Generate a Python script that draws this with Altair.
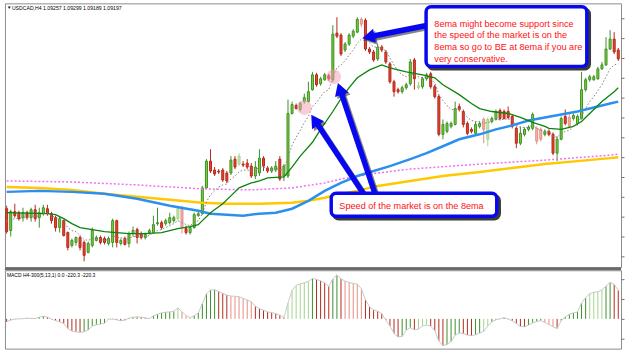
import math
import altair as alt
import numpy as np
import pandas as pd

# Prices are read as "pips below 1.0976" (0.0001 each), one entry per H4 candle.
REF = 1.0976
PIP = 0.0001

opens = [208, 230, 211, 212, 217, 212, 217, 209, 217, 213,
         208, 213, 217, 227, 220, 232, 245, 242, 237, 242,
         252, 245, 240, 237, 238, 243, 242, 220, 243, 238,
         243, 233, 229, 233, 237, 232, 232, 223, 222, 223,
         222, 220, 218, 208, 228, 232, 227, 215, 213, 187,
         160, 169, 170, 169, 172, 172, 158, 163, 163, 162,
         165, 175, 172, 157, 167, 170, 169, 158, 175, 175,
         112, 104, 108, 100, 100, 88, 73, 82, 78, 74,
         78, 31, 33, 48, 42, 34, 30, 17, 18, 47,
         50, 57, 45, 50, 62, 80, 88, 90, 86, 82,
         58, 86, 85, 77, 72, 85, 95, 133, 130, 125,
         123, 105, 110, 122, 128, 132, 125, 118, 138, 120,
         118, 109, 110, 110, 115, 127, 142, 133, 128, 127,
         127, 128, 133, 130, 133, 152, 138, 115, 116, 117,
         122, 117, 88, 78, 78, 77, 67, 63, 47, 37,
         48]
closes = [231, 211, 215, 218, 212, 217, 209, 218, 212, 207,
          213, 220, 227, 218, 235, 247, 240, 237, 247, 255,
          243, 230, 237, 242, 242, 238, 220, 242, 240, 244,
          233, 230, 237, 237, 234, 230, 224, 222, 227, 220,
          217, 217, 208, 227, 232, 227, 214, 213, 187, 160,
          170, 173, 171, 179, 180, 159, 166, 155, 164, 166,
          175, 166, 157, 165, 170, 167, 165, 178, 165, 112,
          103, 107, 102, 96, 90, 73, 83, 77, 73, 77,
          32, 34, 52, 42, 33, 29, 17, 22, 47, 50,
          58, 45, 48, 60, 80, 90, 90, 86, 83, 60,
          77, 84, 77, 73, 85, 95, 133, 123, 122, 122,
          107, 108, 123, 132, 130, 123, 122, 128, 118, 117,
          110, 117, 117, 116, 125, 142, 132, 128, 126, 113,
          140, 138, 130, 133, 152, 138, 117, 122, 125, 114,
          115, 88, 78, 75, 75, 67, 63, 47, 37, 50,
          57]
highs = [205, 209, 203, 210, 207, 210, 207, 204, 207, 204,
         204, 211, 215, 216, 219, 231, 238, 236, 235, 240,
         241, 227, 235, 235, 236, 236, 218, 219, 238, 236,
         231, 226, 227, 231, 232, 228, 215, 207, 220, 218,
         212, 215, 205, 205, 225, 225, 212, 210, 185, 158,
         148, 166, 168, 167, 170, 155, 155, 152, 160, 158,
         162, 160, 148, 155, 165, 165, 160, 155, 163, 98,
         100, 102, 100, 92, 80, 70, 71, 75, 71, 72,
         23, 15, 31, 40, 31, 27, 15, 15, 16, 45,
         48, 42, 43, 48, 60, 78, 86, 84, 81, 57,
         56, 80, 75, 71, 70, 83, 93, 118, 120, 120,
         100, 102, 108, 120, 126, 120, 120, 116, 116, 115,
         108, 107, 108, 105, 113, 125, 125, 126, 124, 111,
         125, 126, 128, 128, 131, 135, 115, 108, 113, 112,
         113, 70, 76, 73, 73, 65, 60, 35, 28, 30,
         46]
lows = [233, 236, 217, 220, 221, 219, 221, 221, 227, 215,
        215, 223, 231, 232, 236, 250, 247, 245, 250, 261,
        253, 247, 241, 244, 244, 245, 247, 247, 245, 245,
        247, 236, 243, 239, 239, 234, 233, 225, 229, 225,
        224, 222, 220, 233, 234, 234, 228, 216, 214, 188,
        172, 175, 173, 181, 182, 174, 168, 165, 166, 168,
        177, 178, 175, 170, 172, 172, 171, 180, 180, 177,
        113, 108, 110, 102, 101, 89, 85, 84, 79, 79,
        80, 36, 54, 50, 44, 36, 31, 25, 49, 52,
        60, 59, 50, 62, 82, 95, 92, 92, 88, 84,
        88, 88, 87, 79, 87, 97, 135, 138, 132, 127,
        124, 110, 126, 134, 132, 134, 127, 142, 145, 122,
        119, 119, 118, 118, 127, 147, 144, 135, 130, 129,
        143, 140, 135, 135, 154, 160, 139, 124, 127, 119,
        124, 118, 90, 80, 79, 78, 68, 64, 48, 52,
        59]
pale_candles = [42, 43, 57, 87, 101, 117, 118, 130, 131, 138]

# 8 EMA (grey dotted), pips below 1.0976, one per candle
ema8 = [221, 219, 218, 218, 217, 217, 215, 216, 215, 213,
        213, 215, 217, 218, 221, 227, 230, 231, 235, 239,
        240, 238, 238, 239, 240, 239, 235, 237, 237, 239,
        238, 236, 236, 236, 236, 235, 232, 230, 229, 227,
        225, 223, 220, 222, 224, 225, 222, 220, 213, 201,
        194, 190, 186, 184, 183, 178, 175, 171, 169, 169,
        170, 169, 166, 166, 167, 167, 167, 169, 168, 156,
        144, 136, 129, 121, 115, 105, 101, 95, 90, 88,
        75, 66, 63, 59, 53, 48, 41, 37, 39, 41,
        45, 45, 46, 49, 56, 63, 69, 73, 75, 72,
        73, 75, 76, 75, 77, 81, 93, 99, 104, 108,
        108, 108, 111, 116, 119, 120, 120, 122, 121, 120,
        118, 118, 118, 117, 119, 124, 126, 126, 126, 123,
        127, 129, 130, 130, 135, 136, 132, 130, 129, 125,
        123, 115, 107, 100, 95, 89, 83, 75, 67, 63,
        62]

# Slower averages read at sample candles (candle index, pips below 1.0976)
green_i = [0, 10, 12, 14, 16, 18, 21, 24, 27, 30, 34, 38, 42, 45, 47, 48, 50, 53, 55, 57,
           60, 62, 64, 68, 70, 72, 75, 77, 80, 82, 84, 86, 89, 92, 94, 98, 102, 105, 107, 111,
           114, 116, 119, 123, 126, 129, 132, 133, 136, 139, 141, 144, 146, 149, 150]
green_v = [212, 213, 214, 218, 223, 227, 229, 231, 232, 233, 233, 232, 228, 226, 224, 220, 212, 203, 195, 187,
           182, 180, 177, 176, 166, 155, 141, 128, 110, 97, 86, 76, 68, 63, 66, 70, 73, 76, 83, 93,
           102, 107, 110, 112, 116, 121, 125, 127, 128, 125, 120, 108, 100, 90, 86]
blue_i = [0, 8, 16, 24, 32, 40, 47, 50, 54, 58, 62, 66, 70, 74, 78, 82, 86, 90, 94, 99,
          103, 107, 111, 116, 120, 124, 128, 132, 136, 140, 144, 148, 150]
blue_v = [191, 190, 191, 193, 198, 205, 210, 213, 214, 215, 213, 212, 208, 200, 190, 182, 175, 170, 165, 158,
          152, 145, 138, 133, 128, 124, 119, 116, 113, 110, 106, 102, 100]
yellow_i = [0, 8, 16, 24, 32, 40, 48, 54, 62, 70, 74, 78, 82, 86, 91, 99, 107, 116, 124, 132, 140, 148, 150]
yellow_v = [186, 187, 189, 193, 196, 199, 202, 203, 203, 202, 200, 197, 193, 190, 185, 180, 175, 171, 167, 163, 160, 157, 156]
magenta_i = [0, 16, 32, 48, 60, 70, 78, 82, 91, 99, 116, 132, 148, 150]
magenta_v = [180, 181, 184, 188, 189, 187, 182, 178, 172, 168, 163, 159, 154, 153]

# MACD histogram (one bar per candle)
macd = [-3, -1.3, -0.3, 0, 0.2, 0.7, 0.5, 0.3, 1.7, 2.7,
        1.7, -0.3, -1.7, -3, -4.7, -9.7, -12.3, -13, -13.7, -13,
        -11.3, -7.3, -6, -5.3, -4.3, -0.3, -0.3, -1, -2, -1.3,
        0.7, 1.7, 2, 1.7, 1, 0.3, 3, 4.7, 6, 6.7,
        7, 7.7, 11, 7, 3.3, 1.3, 3.3, 6, 15.3, 25.3,
        29, 29.3, 27.7, 25.7, 24, 23, 22.7, 22.3, 20.7, 19,
        17.3, 12.7, 10.3, 8.7, 7, 6.3, 5.3, 3.7, 1.3, 16,
        28.7, 33.7, 35.3, 36.3, 37.7, 40.7, 39.7, 38.3, 36.3, 32.7,
        40.3, 44.3, 40.3, 38, 36.7, 35.7, 35, 30.3, 19.3, 12,
        9, 7.7, 5.3, -1.3, -7.3, -14.7, -18.3, -17.7, -11.3, -9,
        -11, -10.3, -7, -6.3, -7.3, -12, -22.3, -27, -25.7, -23,
        -16.3, -14.3, -15, -16.3, -17, -16, -14.3, -12.7, -7.3, -3,
        -1, 0, 1.3, -0.3, -2, -4.7, -7.7, -8, -6.3, -4,
        -2.7, -1.7, -3.7, -5.7, -8, -9.7, -2, 2, 4.7, 6,
        7, 16, 21.3, 25.3, 26.7, 27.3, 29.3, 33, 36.7, 34.7, 28.7]
pale_macd = [42, 43, 44, 45, 55, 56, 57, 58, 59, 60, 69, 70, 71, 72, 73, 74,
             83, 84, 85, 86, 87, 101, 102, 103, 117, 118, 132, 133, 134, 143, 144, 145, 146]

header_text = "USDCAD,H4  1.09257 1.09299 1.09189 1.09197"
macd_text = "MACD H4-300(5,13,1) 0.0 -220.3 -220.3"

box1_lines = ["8ema might become support since",
              "the speed of the market is on the",
              "8ema so go to BE at 8ema if you are",
              "very conservative."]
box1_line_p = [1.09543, 1.09427, 1.09310, 1.09193]
box1_text_i = 104.9
box1 = dict(i1=102.87, i2=142.29, p1=1.09715, p2=1.09115)
box2_line = "Speed of the market is on the 8ema"
box2_text_i, box2_text_p = 81.6, 1.0771
box2 = dict(i1=79.6, i2=120.2, p1=1.07835, p2=1.07605)

arrow_tail_i = [103.3, 88.0, 90.6]
arrow_tail_p = [1.0953, 1.0780, 1.0780]
arrow_tip_i = [87.4, 74.8, 81.3]
arrow_tip_p = [1.0940, 1.0862, 1.0894]

circle_i = [73.0, 80.2]
circle_p = [1.0870, 1.0901]

# ---------------------------------------------------------------
n = len(opens)
def to_price(v):
    return [round(REF - x * PIP, 5) for x in v]

kinds = []
for k in range(n):
    base = "up" if closes[k] <= opens[k] else "dn"
    if k in pale_candles:
        base += "_p"
    kinds.append(base)

cdf = pd.DataFrame({"i": range(n), "o": to_price(opens), "c": to_price(closes),
                    "h": to_price(highs), "l": to_price(lows), "kind": kinds})
ema_df = pd.DataFrame({"i": range(n), "p": to_price(ema8)})
green_df = pd.DataFrame({"i": green_i, "p": to_price(green_v)})
blue_df = pd.DataFrame({"i": blue_i, "p": to_price(blue_v)})
yellow_df = pd.DataFrame({"i": yellow_i, "p": to_price(yellow_v)})
mag_df = pd.DataFrame({"i": magenta_i, "p": to_price(magenta_v)})

mk = []
for k in range(n):
    rising = k > 0 and macd[k] > macd[k - 1]
    base = "g" if rising else "r"
    if k in pale_macd:
        base += "p"
    mk.append(base)
mdf = pd.DataFrame({"i": range(n), "v": macd, "zero": [0] * n, "kind": mk})

# arrow geometry (annotation only)
PXI = 4.11
arows = []
for ti, tp, hi, hp in zip(arrow_tail_i, arrow_tail_p, arrow_tip_i, arrow_tip_p):
    dx = (hi - ti) * PXI
    dy = -(hp - tp) / PIP
    L = math.hypot(dx, dy)
    ux, uy = dx / L, dy / L
    ang = math.degrees(math.atan2(ux, -uy)) % 360
    ci = hi - 5.5 * ux / PXI
    cp = hp + 5.5 * uy * PIP
    arows.append({"ti": ti, "tp": tp, "ci": ci, "cp": cp, "ang": ang})
adf = pd.DataFrame(arows)

W = 621
xsc = alt.Scale(domain=[-0.4136, 150.68], nice=False, zero=False, padding=0)
ysc = alt.Scale(domain=[REF - 267 * PIP, REF - 1 * PIP], nice=False, zero=False, padding=0)
yax = alt.Axis(orient="right", labels=False, title=None, grid=False, ticks=True, tickSize=3,
               tickColor="#6f6f6f", domain=False, tickCount=15, minExtent=0, maxExtent=3)
X = alt.X("i:Q", scale=xsc, axis=None)

def Y(f):
    return alt.Y(f, scale=ysc, axis=yax)

kd = ["up", "dn", "up_p", "dn_p"]
fills = ["#7fd12f", "#e8452f", "#c6eaa9", "#f4b4ac"]
strokes = ["#3d8f2a", "#b3281b", "#a2d38b", "#e38e84"]

wicks = alt.Chart(cdf).mark_rule(strokeWidth=1).encode(
    x=X, y=Y("h:Q"), y2="l:Q",
    color=alt.Color("kind:N", scale=alt.Scale(domain=kd, range=strokes), legend=None))
bodies = alt.Chart(cdf).mark_bar(size=2, strokeWidth=1).encode(
    x=X, y=Y("o:Q"), y2="c:Q",
    fill=alt.Fill("kind:N", scale=alt.Scale(domain=kd, range=fills), legend=None),
    stroke=alt.Stroke("kind:N", scale=alt.Scale(domain=kd, range=strokes), legend=None))

mag = alt.Chart(mag_df).mark_line(color="#f070f0", strokeWidth=1.5, strokeDash=[2, 2]).encode(x=X, y=Y("p:Q"))
yel = alt.Chart(yellow_df).mark_line(color="#ffc800", strokeWidth=2.5).encode(x=X, y=Y("p:Q"))
blu = alt.Chart(blue_df).mark_line(color="#2b8ff0", strokeWidth=2.5).encode(x=X, y=Y("p:Q"))
grn = alt.Chart(green_df).mark_line(color="#0a840a", strokeWidth=1.3).encode(x=X, y=Y("p:Q"))
ema = alt.Chart(ema_df).mark_line(color="#808080", strokeWidth=1, strokeDash=[1.5, 2]).encode(x=X, y=Y("p:Q"))

circ = alt.Chart(pd.DataFrame({"i": circle_i, "p": circle_p})).mark_circle(
    size=220, color="#f59ab3", opacity=0.5).encode(x=X, y=Y("p:Q"))

BLUE = "#0808f0"
shaft_sh = alt.Chart(adf).mark_rule(strokeWidth=5.5, color="#222", opacity=0.55,
                                    xOffset=2, yOffset=2, x2Offset=2, y2Offset=2).encode(
    x=alt.X("ti:Q", scale=xsc, axis=None), x2="ci:Q", y=Y("tp:Q"), y2="cp:Q")
shaft = alt.Chart(adf).mark_rule(strokeWidth=5.5, color=BLUE).encode(
    x=alt.X("ti:Q", scale=xsc, axis=None), x2="ci:Q", y=Y("tp:Q"), y2="cp:Q")
head_sh = alt.Chart(adf).mark_point(shape="triangle-up", filled=True, size=210, color="#222",
                                    opacity=0.55, xOffset=2, yOffset=2).encode(
    x=alt.X("ci:Q", scale=xsc, axis=None), y=Y("cp:Q"), angle=alt.Angle("ang:Q", scale=None))
head = alt.Chart(adf).mark_point(shape="triangle-up", filled=True, size=210, color=BLUE, opacity=1).encode(
    x=alt.X("ci:Q", scale=xsc, axis=None), y=Y("cp:Q"), angle=alt.Angle("ang:Q", scale=None))

bdf = pd.DataFrame([box1, box2])
box_sh = alt.Chart(bdf).mark_rect(cornerRadius=5, fill="#3a3a3a", stroke="#3a3a3a", strokeWidth=3.5,
                                  xOffset=2.5, yOffset=2.5, x2Offset=2.5, y2Offset=2.5).encode(
    x=alt.X("i1:Q", scale=xsc, axis=None), x2="i2:Q", y=Y("p1:Q"), y2="p2:Q")
box = alt.Chart(bdf).mark_rect(cornerRadius=5, fill="white", stroke=BLUE, strokeWidth=3.5).encode(
    x=alt.X("i1:Q", scale=xsc, axis=None), x2="i2:Q", y=Y("p1:Q"), y2="p2:Q")

tdf = pd.DataFrame({"i": [box1_text_i] * len(box1_lines) + [box2_text_i],
                    "p": box1_line_p + [box2_text_p],
                    "t": box1_lines + [box2_line]})
texts = alt.Chart(tdf).mark_text(align="left", baseline="middle", font="Liberation Sans",
                                 fontSize=9.2, color="#ff1010").encode(x=X, y=Y("p:Q"), text="t:N")

one = pd.DataFrame({"a": [0]})
sep = alt.Chart(one).mark_rule(color="#6a6a6a", strokeWidth=3).encode(
    x=alt.value(0), x2=alt.value(W), y=alt.value(267.5))
hdr_tri = alt.Chart(one).mark_text(text="▼", align="left", baseline="middle", fontSize=4.5,
                                   color="#000").encode(x=alt.value(2), y=alt.value(4.8))
hdr = alt.Chart(one).mark_text(text=header_text, align="left", baseline="middle",
                               font="Liberation Sans", fontSize=5.2, color="#000").encode(
    x=alt.value(7), y=alt.value(4.8))

main = alt.layer(wicks, bodies, mag, yel, blu, grn, ema, circ,
                 shaft_sh, head_sh, shaft, head, box_sh, box, texts, sep, hdr_tri, hdr
                 ).properties(width=W, height=266)

msc = alt.Scale(domain=[-30, 49], nice=False, zero=False, padding=0)
max_ = alt.Axis(orient="right", labels=False, title=None, grid=False, ticks=True, tickSize=3,
                tickColor="#6f6f6f", domain=False, tickCount=4, minExtent=0, maxExtent=3)
mkd = ["g", "r", "gp", "rp"]
mcol = ["#22f022", "#ff1f1f", "#a6f7a6", "#ffa8a8"]
mbars = alt.Chart(mdf).mark_rule(strokeWidth=1).encode(
    x=X, y=alt.Y("v:Q", scale=msc, axis=max_), y2="zero:Q",
    color=alt.Color("kind:N", scale=alt.Scale(domain=mkd, range=mcol), legend=None))
mline = alt.Chart(mdf).mark_line(color="#c8c8c8", strokeWidth=1).encode(
    x=X, y=alt.Y("v:Q", scale=msc, axis=max_))
mlabel = alt.Chart(one).mark_text(text=macd_text, align="left", baseline="middle",
                                  font="Liberation Sans", fontSize=5, color="#000").encode(
    x=alt.value(2), y=alt.value(4.5))
macd_chart = alt.layer(mbars, mline, mlabel).properties(width=W, height=79)

chart = alt.vconcat(main, macd_chart, spacing=3, bounds="flush").properties(
    padding={"left": 1, "top": 1, "right": 0, "bottom": 0},
    background="white",
).configure_view(stroke="#8c8c8c", strokeWidth=1)

chart.save("out.html", embed_options={"renderer": "svg", "actions": False})
